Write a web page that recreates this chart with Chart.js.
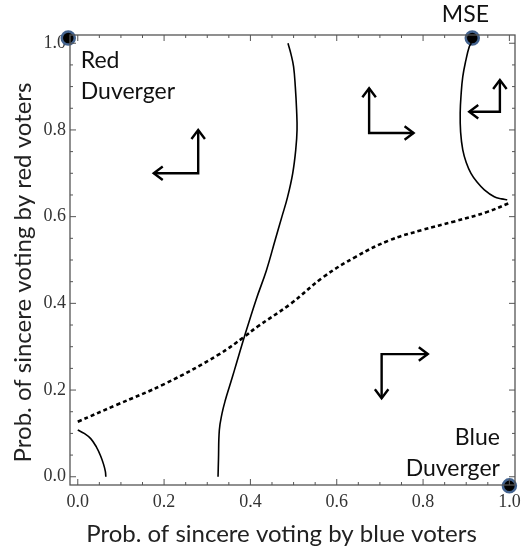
<!DOCTYPE html>
<html>
<head>
<meta charset="utf-8">
<script src="https://cdn.jsdelivr.net/npm/chart.js@4.4.1/dist/chart.umd.min.js"></script>
<style>
html,body{margin:0;padding:0;background:#fff;}
#wrap{width:524px;height:552px;}
</style>
</head>
<body>
<div id="wrap"><canvas id="c"></canvas></div>
<script>
// ---- data ----
const majorTicks = [0, 0.2, 0.4, 0.6, 0.8, 1.0];
const minorTicks = [0.05,0.1,0.15,0.25,0.3,0.35,0.45,0.5,0.55,0.65,0.7,0.75,0.85,0.9,0.95];

// left small solid curve (x, y)
const curveLeftX = [0.0, 0.015, 0.03, 0.043, 0.053, 0.06, 0.064, 0.065];
const curveLeftY = [0.108, 0.100, 0.088, 0.069, 0.048, 0.028, 0.012, 0.0];

// middle solid curve
const curveMidX = [0.325, 0.326, 0.328, 0.334, 0.342, 0.352, 0.363, 0.386, 0.413, 0.437, 0.457, 0.473, 0.486, 0.498, 0.505, 0.508, 0.507, 0.504, 0.500, 0.494, 0.487];
const curveMidY = [0.0, 0.04, 0.108, 0.145, 0.177, 0.210, 0.246, 0.323, 0.408, 0.476, 0.545, 0.600, 0.645, 0.700, 0.754, 0.800, 0.846, 0.900, 0.946, 0.975, 1.0];

// right solid curve
const curveRightX = [0.912, 0.907, 0.899, 0.892, 0.888, 0.886, 0.887, 0.892, 0.900, 0.911, 0.925, 0.942, 0.965, 0.982, 0.995];
const curveRightY = [1.0, 0.992, 0.960, 0.923, 0.880, 0.839, 0.795, 0.754, 0.725, 0.700, 0.680, 0.662, 0.646, 0.641, 0.639];

// dashed curve
const dashX = [0.0, 0.088, 0.203, 0.325, 0.386, 0.416, 0.492, 0.568, 0.645, 0.721, 0.797, 0.873, 0.949, 0.999];
const dashY = [0.127, 0.165, 0.215, 0.281, 0.323, 0.346, 0.398, 0.460, 0.508, 0.545, 0.569, 0.589, 0.611, 0.631];

// equilibrium points
const eqX = [-0.022, 0.914, 1.0];
const eqY = [1.012, 1.012, -0.021];

// arrows: corner, horizontal end x, vertical end y
const arrowCornerX = [0.279, 0.675, 0.978, 0.704];
const arrowCornerY = [0.700, 0.793, 0.842, 0.283];
const arrowHorizX  = [0.176, 0.778, 0.907, 0.811];
const arrowVertY   = [0.800, 0.896, 0.915, 0.181];

// text labels (first-line baseline)
const labelText = [["Red","Duverger"], ["MSE"], ["Blue","Duverger"]];
const labelX = [0.007, 0.898, 0.978];
const labelY = [0.9425, 1.050, 0.073];
const labelAlign = ["left", "center", "right"];

const xTitle = "Prob. of sincere voting by blue voters";
const yTitle = "Prob. of sincere voting by red voters";

function pts(xs, ys){ return xs.map((x,i)=>({x:x, y:ys[i]})); }

function zeroPad(s){ s.paddingLeft = 0; s.paddingRight = 0; s.paddingTop = 0; s.paddingBottom = 0; }

const framePlugin = {
  id: 'framePlugin',
  afterDraw(chart){
    const {ctx, chartArea:a, scales:{x, y}} = chart;
    ctx.save();
    // frame
    ctx.strokeStyle = '#555';
    ctx.lineWidth = 1.3;
    ctx.strokeRect(a.left, a.top, a.right - a.left, a.bottom - a.top);
    // ticks
    ctx.lineWidth = 1;
    const drawT = (vals, len) => {
      vals.forEach(v => {
        const px = x.getPixelForValue(v);
        const py = y.getPixelForValue(v);
        ctx.beginPath();
        ctx.moveTo(px, a.bottom); ctx.lineTo(px, a.bottom - len);
        ctx.moveTo(px, a.top); ctx.lineTo(px, a.top + len);
        ctx.moveTo(a.left, py); ctx.lineTo(a.left + len, py);
        ctx.moveTo(a.right, py); ctx.lineTo(a.right - len, py);
        ctx.stroke();
      });
    };
    drawT(majorTicks, 6);
    drawT(minorTicks, 3);
    // arrows
    ctx.strokeStyle = '#000';
    ctx.lineWidth = 2.4;
    ctx.lineCap = 'butt';
    ctx.lineJoin = 'miter';
    const head = 9;
    arrowCornerX.forEach((cx, i) => {
      const X0 = x.getPixelForValue(cx), Y0 = y.getPixelForValue(arrowCornerY[i]);
      const XH = x.getPixelForValue(arrowHorizX[i]);
      const YV = y.getPixelForValue(arrowVertY[i]);
      ctx.beginPath();
      ctx.moveTo(XH, Y0); ctx.lineTo(X0, Y0); ctx.lineTo(X0, YV);
      ctx.stroke();
      const hs = Math.sign(XH - X0), vs = Math.sign(YV - Y0);
      ctx.beginPath();
      ctx.moveTo(XH - hs*head, Y0 - head*0.75); ctx.lineTo(XH, Y0); ctx.lineTo(XH - hs*head, Y0 + head*0.75);
      ctx.moveTo(X0 - head*0.75, YV - vs*head); ctx.lineTo(X0, YV); ctx.lineTo(X0 + head*0.75, YV - vs*head);
      ctx.stroke();
    });
    // labels
    ctx.fillStyle = '#111';
    ctx.font = '23px Lato';
    ctx.textBaseline = 'alphabetic';
    labelText.forEach((lines, i) => {
      ctx.textAlign = labelAlign[i];
      const px = x.getPixelForValue(labelX[i]);
      const py = y.getPixelForValue(labelY[i]);
      lines.forEach((t, j) => ctx.fillText(t, px, py + j*31));
    });
    // axis titles
    ctx.fillStyle = '#222';
    ctx.font = '24px Lato';
    ctx.textAlign = 'center';
    ctx.fillText(xTitle, 281.5, 541.5);
    ctx.translate(30.5, 272.5);
    ctx.rotate(-Math.PI/2);
    ctx.fillText(yTitle, 0, 0);
    ctx.restore();
  }
};

const solid = {borderColor:'#000', borderWidth:1.6, pointRadius:0, showLine:true, fill:false, tension:0.4};

new Chart(document.getElementById('c'), {
  type: 'scatter',
  data: {
    datasets: [
      Object.assign({data: pts(curveLeftX, curveLeftY)}, solid),
      Object.assign({data: pts(curveMidX, curveMidY)}, solid),
      Object.assign({data: pts(curveRightX, curveRightY)}, solid),
      {data: pts(dashX, dashY), borderColor:'#000', borderWidth:2.6, borderDash:[4,3], pointRadius:0, showLine:true, tension:0.4},
      {data: pts(eqX, eqY), showLine:false, pointRadius:6.5, pointBackgroundColor:'#000', pointBorderColor:'#43638f', pointBorderWidth:2.5, clip:false}
    ]
  },
  options: {
    responsive: true,
    maintainAspectRatio: false,
    animation: false,
    events: [],
    layout: {padding: {top: 35, right: 1, left: 0, bottom: 0}},
    plugins: {legend: {display:false}, tooltip: {enabled:false}},
    scales: {
      x: {
        type: 'linear', min: -0.018, max: 1.013,
        afterFit(s){ s.height = 67; zeroPad(s); },
        afterBuildTicks(s){ s.ticks = majorTicks.map(v=>({value:v})); },
        grid: {display:false, drawTicks:false},
        border: {display:false},
        ticks: {padding: 6, color:'#333', font:{family:'Liberation Serif', size:18}, callback: v => v.toFixed(1), autoSkip:false, maxRotation:0},
        title: {display:false, text: xTitle}
      },
      y: {
        type: 'linear', min: -0.019, max: 1.019,
        afterFit(s){ s.width = 70; zeroPad(s); },
        afterBuildTicks(s){ s.ticks = majorTicks.map(v=>({value:v})); },
        grid: {display:false, drawTicks:false},
        border: {display:false},
        ticks: {padding: 4, color:'#333', font:{family:'Liberation Serif', size:18}, callback: v => v.toFixed(1), autoSkip:false},
        title: {display:false, text: yTitle}
      }
    }
  },
  plugins: [framePlugin]
});
</script>
</body>
</html>
